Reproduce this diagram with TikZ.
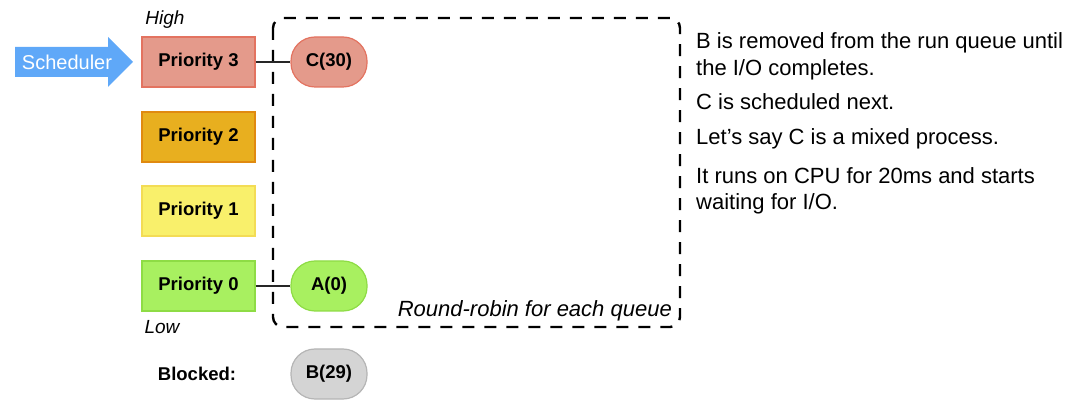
\documentclass[tikz,border=0pt]{standalone}
\usepackage{fontspec}
\setmainfont{Liberation Sans}
\begin{document}
\begin{tikzpicture}[x=1pt,y=-1pt,
  prio/.style={line width=1.2pt, minimum width=113pt, minimum height=50pt, inner sep=0pt, font=\fontsize{18.5}{20}\selectfont\bfseries},
  pill/.style={rounded corners=24pt, line width=1.2pt, minimum width=76pt, minimum height=50pt, inner sep=0pt, font=\fontsize{18.5}{20}\selectfont\bfseries},
  link/.style={line width=1.3pt, draw=black!85},
  note/.style={anchor=base west, inner sep=0pt, font=\fontsize{22}{24}\selectfont},
  lbl/.style={inner sep=0pt, font=\fontsize{19}{21}\selectfont\itshape}]
\definecolor{redf}{HTML}{E49A8B}\definecolor{redd}{HTML}{E37360}
\definecolor{orf}{HTML}{E8AF1F}\definecolor{ord}{HTML}{E08A10}
\definecolor{yef}{HTML}{F9F06B}\definecolor{yed}{HTML}{F3DC55}
\definecolor{grf}{HTML}{A8F060}\definecolor{grd}{HTML}{8EDC45}
\definecolor{gyf}{HTML}{D4D4D4}\definecolor{gyd}{HTML}{B5B5B5}
\definecolor{blu}{HTML}{5FA8F8}
\useasboundingbox (0,0) rectangle (1084,411);
% dashed round-robin frame
\draw[line width=2.4pt, dash pattern=on 12pt off 10pt, rounded corners=10pt] (273,18) rectangle (680,327);
% scheduler arrow
\fill[blu] (15,47) -- (108,47) -- (108,37) -- (133,62) -- (108,87) -- (108,77) -- (15,77) -- cycle;
\node[text=white, inner sep=0pt, font=\fontsize{20}{22}\selectfont] (sched) at (67,62) {Scheduler};
% priority boxes
\node[prio, fill=redf, draw=redd] (p3) at (198.5,62) {Priority 3};
\node[prio, fill=orf, draw=ord] (p2) at (198.5,137) {Priority 2};
\node[prio, fill=yef, draw=yed] (p1) at (198.5,211) {Priority 1};
\node[prio, fill=grf, draw=grd] (p0) at (198.5,286) {Priority 0};
\node[lbl] (high) at (165,20) {High};
\node[lbl] (low) at (162,327) {Low};
% processes
\node[pill, fill=redf, draw=redd] (c) at (329,62) {C(30)};
\node[pill, fill=grf, draw=grd] (a) at (329,286) {A(0)};
\node[pill, fill=gyf, draw=gyd] (b) at (329,374) {B(29)};
\node[inner sep=0pt, font=\fontsize{18.5}{20}\selectfont\bfseries] (blk) at (197,374) {Blocked:};
\draw[link] (p3.east) -- (c.west);
\draw[link] (p0.east) -- (a.west);
\node[inner sep=0pt, anchor=east, font=\fontsize{22}{24}\selectfont\itshape] (rr) at (672,311) {Round-robin for each queue};
% notes
\node[note] (n1) at (696,49) {B is removed from the run queue until};
\node[note] (n2) at (696,76) {the I/O completes.};
\node[note] (n3) at (696,110) {C is scheduled next.};
\node[note] (n4) at (696,145) {Let’s say C is a mixed process.};
\node[note] (n5) at (696,184) {It runs on CPU for 20ms and starts};
\node[note] (n6) at (696,210) {waiting for I/O.};
\end{tikzpicture}
\end{document}
